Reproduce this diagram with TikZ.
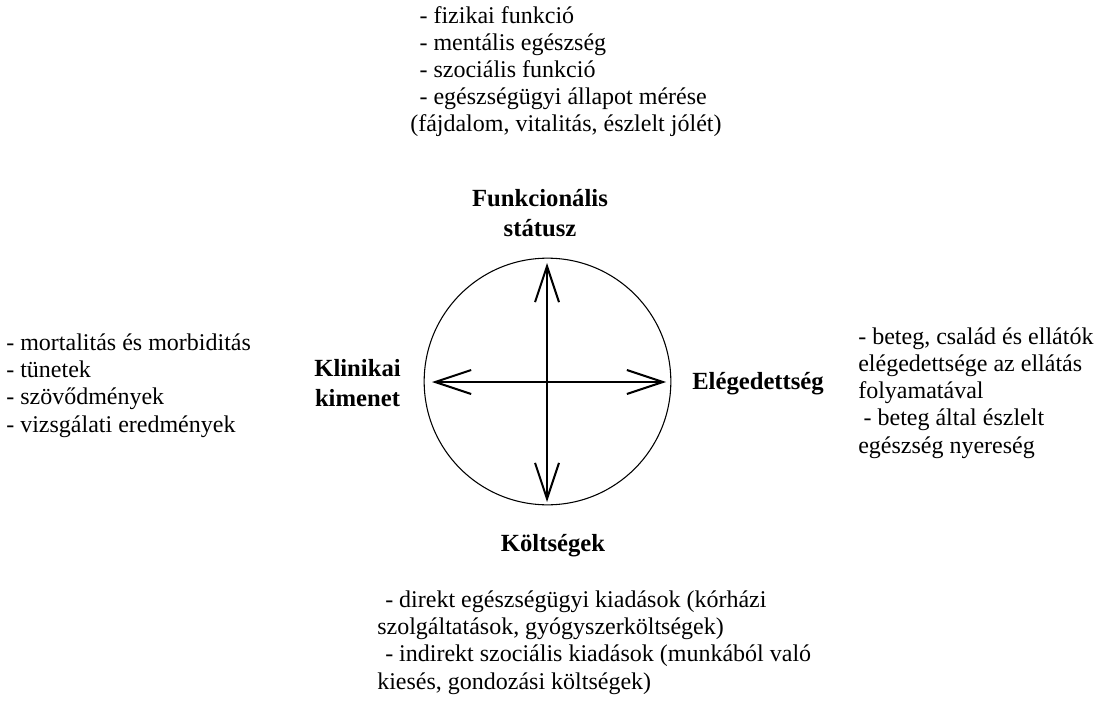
\documentclass[tikz,border=0pt]{standalone}
\usepackage{fontspec}
\setmainfont{Liberation Serif}
\usetikzlibrary{arrows.meta}
\begin{document}
\begin{tikzpicture}[x=0.75pt,y=-0.75pt,
		lista/.style={align=left,anchor=base west,inner sep=0pt,font=\fontsize{18}{20.3}\selectfont},
		cimke/.style={align=center,anchor=base,inner sep=0pt,font=\fontsize{18.5}{22}\selectfont\bfseries},
		nyil/.style={{Straight Barb[length=27pt,width=18pt]}-{Straight Barb[length=27pt,width=18pt]},line width=1.5pt}]
	\useasboundingbox (0,0) rectangle (1105,702);
	% kor es nyilak
	\node[circle,draw,line width=0.8pt,minimum size=185pt,inner sep=0pt] (kor) at (547.5,381.5) {};
	\coordinate (fent) at (547,263);
	\coordinate (lent) at (547,502);
	\coordinate (bal) at (432,382);
	\coordinate (jobb) at (666,382);
	\draw[nyil] (lent)--(fent);
	\draw[nyil] (bal)--(jobb);
	% cimkek (base = utolso sor)
	\node[cimke] (funk) at (540,236) {Funkcionális\\státusz};
	\node[cimke] (klin) at (357.5,406) {Klinikai\\kimenet};
	\node[cimke] (eleg) at (758,389) {Elégedettség};
	\node[cimke] (kolt) at (553,551) {Költségek};
	% listak
	\node[lista] (funklista) at (410,132) {\hspace*{7pt}- fizikai funkció\\\hspace*{7pt}- mentális egészség\\\hspace*{7pt}- szociális funkció\\\hspace*{7pt}- egészségügyi állapot mérése\\(fájdalom, vitalitás, észlelt jólét)};
	\node[lista] (klinlista) at (6,432) {- mortalitás és morbiditás\\- tünetek\\- szövődmények\\- vizsgálati eredmények};
	\node[lista] (eleglista) at (858,453) {- beteg, család és ellátók\\elégedettsége az ellátás\\folyamatával\\\hspace*{4pt}- beteg által észlelt\\egészség nyereség};
	\node[lista] (koltlista) at (377,689) {\hspace*{6pt}- direkt egészségügyi kiadások (kórházi\\szolgáltatások, gyógyszerköltségek)\\\hspace*{6pt}- indirekt szociális kiadások (munkából való\\kiesés, gondozási költségek)};
\end{tikzpicture}
\end{document}
